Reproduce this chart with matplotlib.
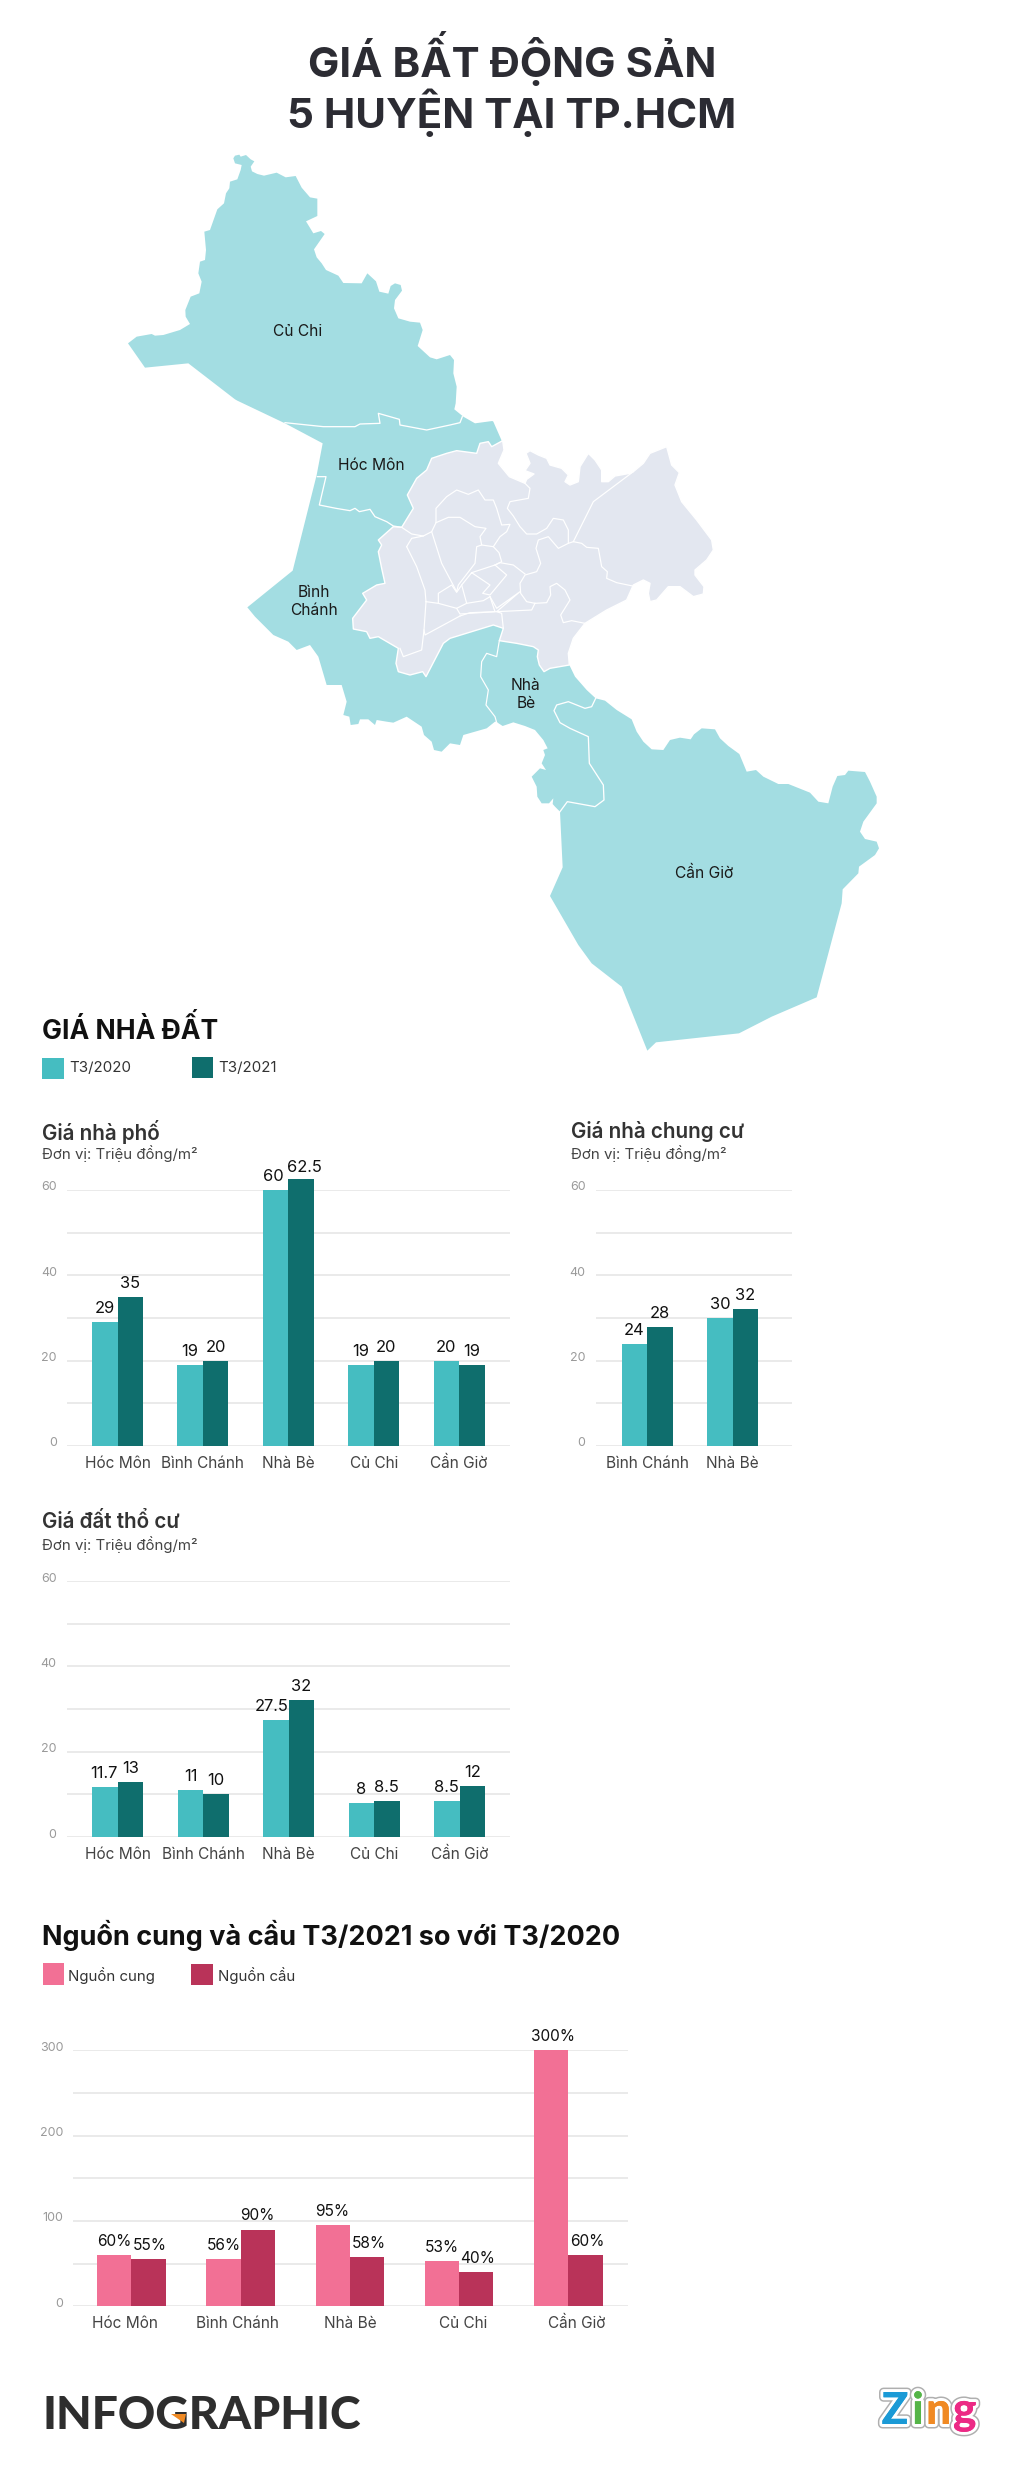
import matplotlib
matplotlib.use("Agg")
import matplotlib.pyplot as plt
import matplotlib.patheffects as pe
from matplotlib.patches import Polygon, Rectangle
from matplotlib.transforms import ScaledTranslation
import numpy as np

W, H = 1024, 2475
plt.rcParams['font.family'] = ['Inter', 'DejaVu Sans']

# ---------------- chart data ----------------
districts = ["Hóc Môn", "Bình Chánh", "Nhà Bè", "Củ Chi", "Cần Giờ"]
townhouse_2020 = [29, 19, 60, 19, 20]
townhouse_2021 = [35, 20, 62.5, 20, 19]

apartment_districts = ["Bình Chánh", "Nhà Bè"]
apartment_2020 = [24, 30]
apartment_2021 = [28, 32]

land_2020 = [11.7, 11, 27.5, 8, 8.5]
land_2021 = [13, 10, 32, 8.5, 12]

supply = [60, 56, 95, 53, 300]
demand = [55, 90, 58, 40, 60]

# ---------------- map outlines, traced from the crops (3x, origin in comment) ----------------
# crop at (120,140)
outline_north = [(345,47),(358,44),(362,50),(378,45),(392,58),(403,64),(392,80),(396,94),(412,102),(432,107),
    (470,98),(497,112),(527,108),(545,143),(570,172),(592,176),(592,228),(558,244),(580,280),(603,273),(614,282),
    (598,305),(582,328),(590,352),(605,370),(618,390),(655,407),(670,429),(725,430),(742,400),(768,424),(778,455),
    (805,461),(812,438),(825,430),(842,435),(846,452),(825,480),(822,505),(835,535),(870,545),(900,548),(908,570),
    (893,618),(930,652),(950,658),(990,645),(1002,660),(1000,700),(1010,740),(1007,790),(1003,808),(1030,830),
    (1065,850),(1117,843)]
# crop at (230,400)
outline_hocmon_east = [(790,65),(815,122)]
# crop at (350,430), hidden under the grey area
outline_hidden = [(420,180),(630,390),(655,705)]
# crop at (480,640)
outline_cangio = [(268,75),(285,110),(320,150),(347,175),(375,182),(410,210),(455,238),(470,275),(490,305),(515,328),
    (550,330),(570,300),(600,293),(632,298),(642,283),(665,265),(705,268),(720,295),(745,318),(778,342),(800,395),
    (828,390),(850,410),(895,432),(925,432),(990,458),(1015,485),(1045,490),(1058,440),(1072,408),(1095,405),
    (1105,392),(1155,396),(1170,425),(1190,470),(1190,490),(1150,545),(1140,575),(1155,597),(1190,605),(1197,625),
    (1185,645),(1137,680),(1135,700),(1088,748),(1085,790),(1010,1072),(875,1130),(777,1180),(528,1207),(502,1232),
    (425,1040),(335,970),(295,915),(210,768),(248,682),(240,515),(225,500),(218,492),(220,475),(207,490),(185,490),
    (172,470),(170,440),(155,410),(170,395),(180,385),(198,390),(185,370),(195,345),(190,330),(203,325),(190,300),
    (165,270),(135,258),(100,247),(68,258),(48,245)]
# crop at (230,400)
outline_south = [(795,965),(770,985),(700,1005),(690,1035),(660,1030),(635,1055),(612,1050),(605,1025),(582,1005),
    (575,980),(530,950),(490,968),(470,965),(440,960),(435,975),(415,958),(390,958),(385,972),(362,975),(358,950),
    (340,945),(350,905),(335,855),(290,855),(265,770),(240,735),(200,750),(175,725),(130,705),(85,660),(75,650),
    (52,622),(188,512),(260,225),(278,130),(165,70),(22,2)]
# crop at (120,140)
outline_west = [(345,778),(205,670),(75,683),(24,610),(50,590),(95,582),(105,587),(130,585),(180,570),(210,552),
    (197,530),(196,510),(212,470),(238,460),(245,425),(235,400),(240,365),(255,360),(258,330),(253,275),(270,270),
    (292,208),(312,190),(318,160),(328,145),(330,125),(352,118),(362,90),(365,75),(345,70),(340,55)]

# crop at (350,430)
inner_city = [(458,32),(462,60),(445,100),(478,140),(525,160),(530,148),(552,132),(525,122),(540,100),(528,70),(540,62),
    (565,75),(590,85),(600,105),(635,115),(655,135),(645,155),(660,165),(685,155),(690,110),(715,70),(735,90),
    (755,120),(755,155),(775,155),(795,138),(840,130),(850,125),(880,100),(900,70),(950,50),(965,105),(988,128),
    (975,165),(995,215),(1040,270),(1085,330),(1090,360),(1070,390),(1035,420),(1035,435),(1062,470),(1060,492),
    (1030,500),(990,470),(955,470),(920,510),(900,515),(895,490),(900,460),(880,450),(850,465),(830,510),(770,540),
    (705,580),(670,625),(655,670),(658,705),(600,715),(582,725),(568,705),(562,680),(565,660),(550,650),(500,640),
    (448,632),(460,595),(430,585),(365,605),(300,625),(280,640),(228,740),(218,725),(180,735),(145,725),(138,700),
    (145,655),(85,620),(60,625),(50,605),(10,597),(8,565),(50,510),(38,490),(80,465),(105,460),(95,415),(85,365),
    (95,345),(85,330),(130,290),(155,292),(190,235),(172,195),(200,145),(230,120),(245,85),(290,70),(320,62),
    (380,70),(390,40),(415,35),(425,50)]
inner_borders = [
    [(155,292),(185,312),(220,318),(245,305),(258,278),(258,235),(290,200),(320,180),(355,193),(385,180),(405,210),
     (430,210),(440,235),(455,285),(480,283),(470,305),(450,320),(430,350)],
    [(258,278),(295,262),(330,262),(375,290),(408,295),(390,320),(395,345),(430,350),(447,368),(455,395),(435,405)],
    [(245,305),(275,400),(320,485),(325,465),(375,400),(380,350),(395,345)],
    [(525,160),(540,175),(535,205),(480,215),(472,235),(490,258),(510,290),(530,312),(560,312),(590,295),(610,265),
     (640,270),(655,300),(655,340),(625,355),(595,320),(565,330),(558,355),(572,400),(560,425),(525,435),(510,460),
     (512,490),(530,515),(555,520)],
    [(850,125),(730,215),(670,335),(695,340),(710,352),(745,355),(755,410),(772,425),(770,445),(800,458),(848,468)],
    [(655,340),(670,335)],
    [(555,520),(590,518),(602,495),(600,470),(620,460),(645,480),(660,510),(632,555),(640,578),(665,572),(705,580)],
    [(555,520),(545,540),(440,545),(510,485),(440,535),(420,500)],
    [(365,428),(435,405),(470,435),(420,495),(398,490),(420,465),(365,428),(335,465),(350,520),(400,512),(420,500)],
    [(335,465),(320,487),(305,465),(265,490),(265,520),(228,515)],
    [(265,520),(320,535),(330,552),(435,545),(420,500)],
    [(320,535),(350,520)],
    [(330,558),(225,615),(222,600)],
    [(330,558),(360,548),(440,545),(455,550),(460,595)],
    [(228,515),(222,600),(215,660),(160,680),(150,655)],
    [(170,350),(185,325),(220,318)],
    [(170,350),(200,410),(225,480),(228,515)],
    [(435,405),(450,398),(490,405),(525,432)],
    [(448,632),(440,680),(410,670),(395,695),(392,740),(415,780),(408,825),(435,860),(442,885)],
]
# crop at (120,140)
border_cuchi = [(495,848),(610,860),(705,860),(720,852),(780,850),(775,820),(838,838),(840,855),(920,870),(990,855),
    (1020,848),(1027,830)]
# crop at (230,400)
border_hocmon = [(262,230),(288,230),(268,315),(318,325),(360,332),(375,325),(388,335),(420,328),(435,350),(470,365),
    (490,378),(515,382)]
# crop at (480,640)
border_cangio = [(347,175),(335,200),(315,205),(265,185),(230,195),(222,212),(240,248),(270,265),(325,290),(328,370),
    (370,435),(372,480),(345,500),(290,490),(262,485),(240,515)]

# ---------------- colours ----------------
TEAL_LIGHT, TEAL_DARK = "#45BDC1", "#0F6E6D"
PINK_LIGHT, PINK_DARK = "#F27095", "#B93359"
MAP_TEAL, MAP_GREY = "#A3DDE2", "#E3E7F0"
GRID = "#E6E6E6"


def px(size):
    return size * 0.72


def crop(points, x0, y0):
    return [(x0 + x / 3, y0 + y / 3) for x, y in points]


def make_axes(left, right, top, bottom):
    ax = fig.add_axes([left / W, 1 - bottom / H, (right - left) / W, (bottom - top) / H])
    ax.patch.set_alpha(0)
    for s in ax.spines.values():
        s.set_visible(False)
    return ax


def grouped_bars(ax, labels, first, second, colors, first_px, step_px, bar_px, left, right, ymax, ystep, ylab_step,
                 suffix="", nudge=None, label_px=None, dy=13.5, fs=16.5, tick_y=17.5):
    nudge = nudge or {}
    x = np.arange(len(labels))
    w = bar_px / step_px
    ax.set_xlim((left - first_px) / step_px, (right - first_px) / step_px)
    ax.set_ylim(0, ymax)
    ax.bar(x - w / 2, first, w, color=colors[0], clip_on=False, zorder=3)
    ax.bar(x + w / 2, second, w, color=colors[1], clip_on=False, zorder=3)
    for j, series in enumerate((first, second)):
        for i, v in enumerate(series):
            dx, up = nudge.get((i, j), (0, 0))
            ax.annotate(f"{v}{suffix}", (x[i] + (w / 2 if j else -w / 2), v),
                        xytext=(px(dx), px(dy + up)), textcoords="offset points",
                        ha="center", va="center", fontsize=px(fs), color="#111111", annotation_clip=False, zorder=5)
    ticks = np.arange(0, ymax + 1, ystep)
    ax.set_yticks(ticks)
    ax.set_yticklabels([f"{t:g}" if t % ylab_step == 0 else "" for t in ticks])
    ax.tick_params(axis="y", length=0, pad=px(10), labelsize=px(12.5), labelcolor="#9A9A9A")
    shift = ScaledTranslation(0, 4 / 100, fig.dpi_scale_trans)
    for t in ax.get_yticklabels():
        t.set_transform(t.get_transform() + shift)
    ax.grid(axis="y", color=GRID, linewidth=px(1.6), zorder=0)
    ax.set_axisbelow(True)
    if label_px is None:
        ax.set_xticks(x)
    else:
        ax.set_xticks([(p - first_px) / step_px for p in label_px])
    ax.set_xticklabels(labels)
    ax.tick_params(axis="x", length=0, pad=px(tick_y), labelsize=px(15.4), labelcolor="#444444")
    for t in ax.get_xticklabels():
        t.set_va("center")


fig = plt.figure(figsize=(W / 100, H / 100), dpi=100, facecolor="white")

# full page axes in pixels, for the map, headings and legends
page = fig.add_axes([0, 0, 1, 1])
page.set_xlim(0, W)
page.set_ylim(H, 0)
page.axis("off")

# ---------------- title ----------------
for line, y in (("GIÁ BẤT ĐỘNG SẢN", 77), ("5 HUYỆN TẠI TP.HCM", 128)):
    page.text(512, y, line, ha="center", va="baseline", fontsize=px(42), fontweight="bold", color="#2C2C33")

# ---------------- map ----------------
teal_outline = (crop(outline_north, 120, 140) + crop(outline_hocmon_east, 230, 400) + crop(outline_hidden, 350, 430)
                + crop(outline_cangio, 480, 640) + crop(outline_south, 230, 400) + crop(outline_west, 120, 140))
page.add_patch(Polygon(teal_outline, closed=True, facecolor=MAP_TEAL, edgecolor="none", zorder=1))
page.add_patch(Polygon(crop(inner_city, 350, 430), closed=True, facecolor=MAP_GREY, edgecolor="white",
                       linewidth=px(1.4), joinstyle="round", zorder=2))
for seg in inner_borders:
    pts = np.array(crop(seg, 350, 430))
    page.plot(pts[:, 0], pts[:, 1], color="white", lw=px(1.2), zorder=3, solid_joinstyle="round")
for seg, org in ((border_cuchi, (120, 140)), (border_hocmon, (230, 400)), (border_cangio, (480, 640))):
    pts = np.array(crop(seg, *org))
    page.plot(pts[:, 0], pts[:, 1], color="white", lw=px(1.3), zorder=3, solid_joinstyle="round")

map_labels = [("Củ Chi", 297.3, 331.7), ("Hóc Môn", 371.7, 465.7), ("Bình", 314.3, 592.3), ("Chánh", 314.3, 610.3),
              ("Nhà", 526, 685), ("Bè", 526, 703), ("Cần Giờ", 704, 873)]
for name, x, y in map_labels:
    page.text(x, y, name, ha="center", va="center", fontsize=px(15.6), color="#1A1A1A", zorder=4)

# ---------------- GIÁ NHÀ ĐẤT ----------------
page.text(42.4, 1039, "GIÁ NHÀ ĐẤT", fontsize=px(26.5), fontweight="bold", color="#111111", va="baseline")
page.add_patch(Rectangle((42.4, 1057.5), 21.5, 21, facecolor=TEAL_LIGHT, edgecolor="none"))
page.add_patch(Rectangle((192, 1056.7), 21, 21, facecolor=TEAL_DARK, edgecolor="none"))
page.text(69, 1068, "T3/2020", fontsize=px(15), color="#333333", va="center")
page.text(218, 1068.5, "T3/2021", fontsize=px(15), color="#333333", va="center")

for x, y, head in ((42.4, 1131.5, "Giá nhà phố"), (570.7, 1131.5, "Giá nhà chung cư"), (42.4, 1521.7, "Giá đất thổ cư")):
    page.text(x, y, head, fontsize=px(20.6), fontweight="semibold", color="#333333", va="center")
    page.text(x, y + 22.5, "Đơn vị: Triệu đồng/m²", fontsize=px(15), color="#444444", va="center")

ax1 = make_axes(67, 510, 1190, 1446)
grouped_bars(ax1, districts, townhouse_2020, townhouse_2021, (TEAL_LIGHT, TEAL_DARK), 117.5, 85.4, 25.5, 67, 510,
             60, 10, 20, nudge={(2, 0): (-2, 0), (2, 1): (3, -2)})

ax2 = make_axes(595.5, 792, 1190, 1446)
grouped_bars(ax2, apartment_districts, apartment_2020, apartment_2021, (TEAL_LIGHT, TEAL_DARK), 647, 85.6, 25.5,
             595.5, 792, 60, 10, 20)

ax3 = make_axes(66.5, 510, 1581, 1837)
grouped_bars(ax3, districts, land_2020, land_2021, (TEAL_LIGHT, TEAL_DARK), 117.9, 85.4, 25.5, 66.5, 510,
             60, 10, 20, nudge={(0, 0): (-1, 0), (2, 0): (-4, 0)})

# ---------------- Nguồn cung và cầu ----------------
page.text(42.5, 1935, "Nguồn cung và cầu T3/2021 so với T3/2020", fontsize=px(27), fontweight="bold",
          color="#111111", va="center")
page.add_patch(Rectangle((42.5, 1963), 21.2, 21.5, facecolor=PINK_LIGHT, edgecolor="none"))
page.add_patch(Rectangle((191, 1963.5), 22, 21.5, facecolor=PINK_DARK, edgecolor="none"))
page.text(68, 1975.3, "Nguồn cung", fontsize=px(15), color="#333333", va="center")
page.text(217.7, 1975.3, "Nguồn cầu", fontsize=px(15), color="#333333", va="center")

ax4 = make_axes(73.3, 627.5, 2050.3, 2306.3)
grouped_bars(ax4, districts, supply, demand, (PINK_LIGHT, PINK_DARK), 131.4, 109.2, 34.3, 73.3, 627.5,
             300, 50, 100, suffix="%", fs=15.5, label_px=[124.5, 237, 350, 463.6, 576.7],
             nudge={(4, 0): (2, 0), (4, 1): (2, 0), (0, 1): (1.5, 0), (2, 1): (1.5, 0), (3, 1): (1.5, 0)})

# ---------------- footer ----------------
page.text(42.5, 2429, "INFOGRAPHIC", family=["Lato", "DejaVu Sans"], fontweight="black", fontsize=px(46.3),
          color="#2E2E2E", va="baseline")
page.add_patch(Polygon([(171, 2414), (186, 2414), (184, 2423)], closed=True, facecolor="#F08A24", edgecolor="none", zorder=5))

for ch, x, col in (("Z", 895, "#1B9AD6"), ("i", 918, "#55B548"), ("n", 938.6, "#F08A24"), ("g", 964.7, "#EC2A85")):
    page.text(x, 2424, ch, ha="center", va="baseline", family=["Lato", "DejaVu Sans"], fontweight="black",
              fontsize=px(44), color=col, zorder=6,
              path_effects=[pe.withStroke(linewidth=px(9), foreground="#AFAFAF"),
                            pe.withStroke(linewidth=px(6), foreground="white"),
                            pe.Normal()])

fig.savefig("out.png", dpi=100, facecolor="white")
